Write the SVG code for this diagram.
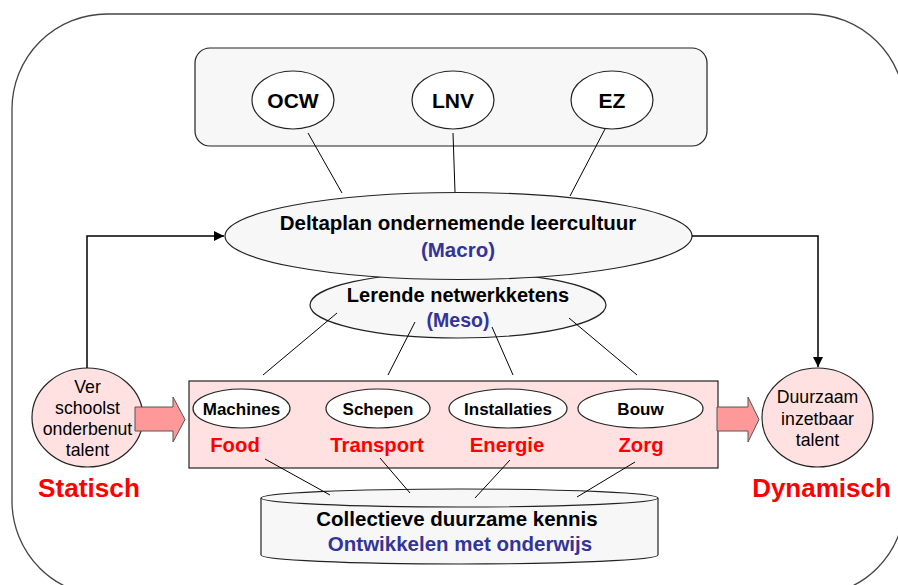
<svg xmlns="http://www.w3.org/2000/svg" width="898" height="585" viewBox="0 0 898 585">
<defs>
<marker id="ah" viewBox="0 0 10 10" refX="10" refY="5" markerWidth="10" markerHeight="10" markerUnits="userSpaceOnUse" orient="auto">
<path d="M0,0 L10,5 L0,10 Z" fill="#000"/>
</marker>
<style>
text{font-family:"Liberation Sans",Arial,sans-serif;text-anchor:middle}
.b{font-weight:bold}
.blue{fill:#333399;font-weight:bold}
.red{fill:#ff0000;font-weight:bold}
.gray{fill:#f7f7f7;stroke:#222;stroke-width:1.2}
.white{fill:#fff;stroke:#222;stroke-width:1.2}
.pink{fill:#ffe1e1;stroke:#222;stroke-width:1.2}
.arrow{fill:#ff9999;stroke:#555;stroke-width:1}
.ln{stroke:#000;stroke-width:1;fill:none}
.conn{stroke:#000;stroke-width:1.5;fill:none}
</style>
</defs>
<rect x="0" y="0" width="898" height="585" fill="#fff"/>
<rect id="frame" x="12" y="14" width="893" height="582" rx="95" ry="95" fill="none" stroke="#444" stroke-width="1.3"/>

<g id="ministries">
<rect x="195" y="48" width="512" height="98" rx="15" ry="15" class="gray"/>
</g>
<g id="ocw"><ellipse cx="293" cy="100" rx="41" ry="29" class="white"/><text x="293" y="107.5" class="b" font-size="21">OCW</text></g>
<g id="lnv"><ellipse cx="453" cy="100" rx="41" ry="29" class="white"/><text x="453" y="107.5" class="b" font-size="21">LNV</text></g>
<g id="ez"><ellipse cx="612" cy="100" rx="41" ry="29" class="white"/><text x="612" y="107.5" class="b" font-size="21">EZ</text></g>

<g id="lerende">
<ellipse cx="458" cy="305" rx="148" ry="33" class="gray"/>
<text x="458" y="302" class="b" font-size="20">Lerende netwerkketens</text>
<text x="458" y="327" class="blue" font-size="19.5">(Meso)</text>
</g>

<g id="deltaplan">
<ellipse cx="458.5" cy="236" rx="233.5" ry="43.5" class="gray"/>
<text x="458" y="230" class="b" font-size="20.5">Deltaplan ondernemende leercultuur</text>
<text x="458" y="257" class="blue" font-size="20.5">(Macro)</text>
</g>

<g id="sectors">
<rect x="189" y="381" width="529" height="87" class="pink"/>
<ellipse cx="241.5" cy="408.5" rx="48.5" ry="19.5" class="white"/>
<text x="241.5" y="415" class="b" font-size="17">Machines</text>
<ellipse cx="378" cy="408.5" rx="52" ry="19.5" class="white"/>
<text x="378" y="415" class="b" font-size="17">Schepen</text>
<ellipse cx="508" cy="408.5" rx="59" ry="19.5" class="white"/>
<text x="508" y="415" class="b" font-size="17">Installaties</text>
<ellipse cx="640.5" cy="408.5" rx="62.5" ry="19.5" class="white"/>
<text x="640.5" y="415" class="b" font-size="17">Bouw</text>
<text x="235" y="452" class="red" font-size="20.3">Food</text>
<text x="377" y="452" class="red" font-size="20.3">Transport</text>
<text x="507" y="452" class="red" font-size="20.3">Energie</text>
<text x="641" y="452" class="red" font-size="20.3">Zorg</text>
</g>

<g id="kennis">
<path d="M261,498 L261,555 A198.5,9 0 0 0 658,555 L658,498" class="gray"/>
<ellipse cx="459.5" cy="498" rx="198.5" ry="9" class="gray"/>
<text x="457" y="526" class="b" font-size="20.5">Collectieve duurzame kennis</text>
<text x="460" y="551" class="blue" font-size="20.5">Ontwikkelen met onderwijs</text>
</g>

<g id="statisch">
<ellipse cx="87.5" cy="417.5" rx="55.5" ry="49.5" class="pink"/>
<text x="87.5" y="393" font-size="17.7">Ver</text>
<text x="87.5" y="414" font-size="17.7">schoolst</text>
<text x="87.5" y="435" font-size="17.7">onderbenut</text>
<text x="87.5" y="456" font-size="17.7">talent</text>
<text x="89" y="497" class="red" font-size="26.2">Statisch</text>
</g>
<g id="arrow-left">
<path d="M135,407 L173,407 L173,397 L185,419.5 L173,442 L173,431 L135,431 Z" class="arrow"/>
</g>

<g id="dynamisch">
<ellipse cx="817.5" cy="417.5" rx="55.5" ry="49.5" class="pink"/>
<text x="817.5" y="403" font-size="17.7">Duurzaam</text>
<text x="817.5" y="425" font-size="17.7">inzetbaar</text>
<text x="817.5" y="446" font-size="17.7">talent</text>
<text x="821.5" y="497" class="red" font-size="26">Dynamisch</text>
</g>
<g id="arrow-right">
<path d="M717,407 L748,407 L748,397 L759,419.5 L748,442 L748,431 L717,431 Z" class="arrow"/>
</g>

<g id="connectors">
<line x1="308" y1="133" x2="342" y2="193" class="ln"/>
<line x1="453" y1="133" x2="455" y2="192" class="ln"/>
<line x1="605" y1="129" x2="570" y2="196" class="ln"/>
<line x1="337" y1="313" x2="263" y2="375" class="ln"/>
<line x1="415" y1="322" x2="388" y2="375" class="ln"/>
<line x1="492" y1="327" x2="513" y2="375" class="ln"/>
<line x1="569" y1="318" x2="637" y2="375" class="ln"/>
<line x1="265" y1="459" x2="330" y2="495" class="ln"/>
<line x1="380" y1="458" x2="410" y2="493" class="ln"/>
<line x1="510" y1="460" x2="475" y2="498" class="ln"/>
<line x1="635" y1="462" x2="577" y2="497" class="ln"/>
<polyline points="87,368 87,236 224,236" class="conn" marker-end="url(#ah)"/>
<polyline points="692,236 818,236 818,367" class="conn" marker-end="url(#ah)"/>
</g>
</svg>
